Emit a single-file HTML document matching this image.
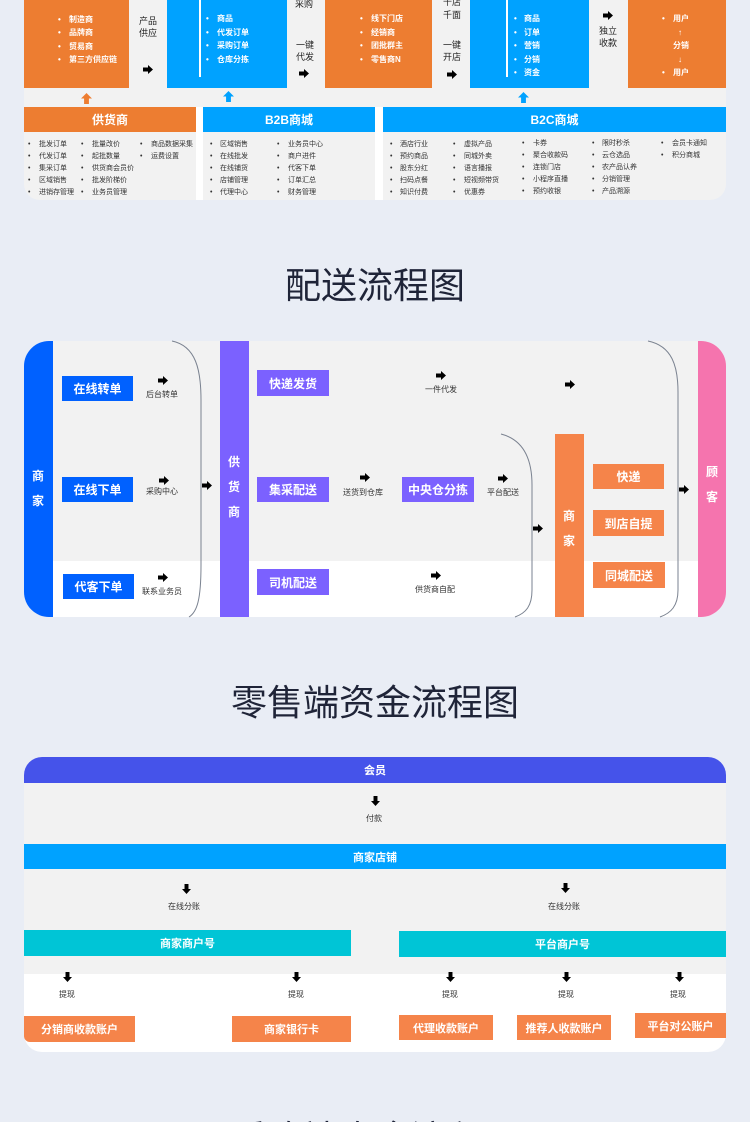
<!DOCTYPE html>
<html style="width:750px;height:1122px;overflow:hidden"><head><meta charset="utf-8"><style>
*{margin:0;padding:0;box-sizing:border-box}
html{width:750px;height:1122px;overflow:hidden}
body{width:750px;height:1122px;background:#e9edf5;position:relative;overflow:hidden;font-family:"Liberation Sans","Noto Sans CJK SC",sans-serif}
.a{position:absolute}
.t{position:absolute;white-space:nowrap;line-height:1}
.w{color:#fff;font-weight:bold}
.s{font-size:8px;color:#fff;font-weight:bold}
.k{font-size:9px;color:#222}
.l{font-size:7px;color:#333}
.ar{position:absolute;width:10px;height:9px;background:#000;clip-path:polygon(0 28%,50% 28%,50% 0,100% 50%,50% 100%,50% 72%,0 72%)}
.ad{position:absolute;width:9px;height:10px;background:#000;clip-path:polygon(28% 0,72% 0,72% 50%,100% 50%,50% 100%,0 50%,28% 50%)}
.au{position:absolute;width:11px;height:11px;clip-path:polygon(50% 0,100% 50%,72% 50%,72% 100%,28% 100%,28% 50%,0 50%)}
.bx{position:absolute;color:#fff;font-weight:bold;display:flex;align-items:center;justify-content:center;white-space:nowrap}
.title{position:absolute;left:0;width:750px;text-align:center;font-size:36px;color:#1f2438;line-height:40px}
</style></head><body>

<!-- Section 1 -->
<div class="a" style="left:24px;top:0;width:702px;height:200px;background:#f2f2f2;border-radius:0 0 16px 16px"></div>
<div class="a" style="left:24px;top:0;width:105px;height:88px;background:#ed7d31"></div>
<div class="a" style="left:167px;top:0;width:120px;height:88px;background:#00a2ff"></div>
<div class="a" style="left:199px;top:0;width:2px;height:77px;background:#fff"></div>
<div class="a" style="left:325px;top:0;width:107px;height:88px;background:#ed7d31"></div>
<div class="a" style="left:470px;top:0;width:119px;height:88px;background:#00a2ff"></div>
<div class="a" style="left:506px;top:0;width:2px;height:77px;background:#fff"></div>
<div class="a" style="left:628px;top:0;width:98px;height:88px;background:#ed7d31"></div>

<div class="t s" style="left:58px;top:16px">•</div><div class="t s" style="left:69px;top:16px">制造商</div>
<div class="t s" style="left:58px;top:29px">•</div><div class="t s" style="left:69px;top:29px">品牌商</div>
<div class="t s" style="left:58px;top:43px">•</div><div class="t s" style="left:69px;top:43px">贸易商</div>
<div class="t s" style="left:58px;top:56px">•</div><div class="t s" style="left:69px;top:56px">第三方供应链</div>

<div class="t s" style="left:206px;top:15px">•</div><div class="t s" style="left:217px;top:15px">商品</div>
<div class="t s" style="left:206px;top:29px">•</div><div class="t s" style="left:217px;top:29px">代发订单</div>
<div class="t s" style="left:206px;top:42px">•</div><div class="t s" style="left:217px;top:42px">采购订单</div>
<div class="t s" style="left:206px;top:56px">•</div><div class="t s" style="left:217px;top:56px">仓库分拣</div>

<div class="t s" style="left:360px;top:15px">•</div><div class="t s" style="left:371px;top:15px">线下门店</div>
<div class="t s" style="left:360px;top:29px">•</div><div class="t s" style="left:371px;top:29px">经销商</div>
<div class="t s" style="left:360px;top:42px">•</div><div class="t s" style="left:371px;top:42px">团批群主</div>
<div class="t s" style="left:360px;top:56px">•</div><div class="t s" style="left:371px;top:56px">零售商N</div>

<div class="t s" style="left:514px;top:15px">•</div><div class="t s" style="left:524px;top:15px">商品</div>
<div class="t s" style="left:514px;top:29px">•</div><div class="t s" style="left:524px;top:29px">订单</div>
<div class="t s" style="left:514px;top:42px">•</div><div class="t s" style="left:524px;top:42px">营销</div>
<div class="t s" style="left:514px;top:56px">•</div><div class="t s" style="left:524px;top:56px">分销</div>
<div class="t s" style="left:514px;top:69px">•</div><div class="t s" style="left:524px;top:69px">资金</div>

<div class="t s" style="left:662px;top:15px">•</div><div class="t s" style="left:673px;top:15px">用户</div>
<div class="t s" style="left:678px;top:29px">↑</div>
<div class="t s" style="left:673px;top:42px">分销</div>
<div class="t s" style="left:678px;top:56px">↓</div>
<div class="t s" style="left:662px;top:69px">•</div><div class="t s" style="left:673px;top:69px">用户</div>

<div class="t k" style="left:139px;top:17px">产品</div><div class="t k" style="left:139px;top:29px">供应</div>
<div class="ar" style="left:143px;top:65px"></div>
<div class="t k" style="left:295px;top:0px">采购</div>
<div class="t k" style="left:296px;top:41px">一键</div><div class="t k" style="left:296px;top:53px">代发</div>
<div class="ar" style="left:299px;top:69px"></div>
<div class="t k" style="left:443px;top:-2px">千店</div><div class="t k" style="left:443px;top:11px">千面</div>
<div class="t k" style="left:443px;top:41px">一键</div><div class="t k" style="left:443px;top:53px">开店</div>
<div class="ar" style="left:447px;top:70px"></div>
<div class="ar" style="left:603px;top:11px"></div>
<div class="t k" style="left:599px;top:27px">独立</div><div class="t k" style="left:599px;top:39px">收款</div>

<div class="au" style="left:81px;top:93px;background:#ed7d31"></div>
<div class="au" style="left:223px;top:91px;background:#00a2ff"></div>
<div class="au" style="left:518px;top:92px;background:#00a2ff"></div>

<div class="a" style="left:196px;top:107px;width:7px;height:93px;background:#fff"></div>
<div class="a" style="left:375px;top:107px;width:8px;height:93px;background:#fff"></div>
<div class="bx" style="left:24px;top:107px;width:172px;height:25px;background:#ed7d31;font-size:12px">供货商</div>
<div class="bx" style="left:203px;top:107px;width:172px;height:25px;background:#00a2ff;font-size:12px">B2B商城</div>
<div class="bx" style="left:383px;top:107px;width:343px;height:25px;background:#00a2ff;font-size:12px">B2C商城</div>

<!-- lists -->
<div class="t l" style="left:28px;top:139px;line-height:12px">•<br>•<br>•<br>•<br>•</div>
<div class="t l" style="left:39px;top:139px;line-height:12px">批发订单<br>代发订单<br>集采订单<br>区域销售<br>进销存管理</div>
<div class="t l" style="left:81px;top:139px;line-height:12px">•<br>•<br>•<br>•<br>•</div>
<div class="t l" style="left:92px;top:139px;line-height:12px">批量改价<br>起批数量<br>供货商会员价<br>批发阶梯价<br>业务员管理</div>
<div class="t l" style="left:140px;top:139px;line-height:12px">•<br>•</div>
<div class="t l" style="left:151px;top:139px;line-height:12px">商品数据采集<br>运费设置</div>

<div class="t l" style="left:210px;top:139px;line-height:12px">•<br>•<br>•<br>•<br>•</div>
<div class="t l" style="left:220px;top:139px;line-height:12px">区域销售<br>在线批发<br>在线铺货<br>店铺管理<br>代理中心</div>
<div class="t l" style="left:277px;top:139px;line-height:12px">•<br>•<br>•<br>•<br>•</div>
<div class="t l" style="left:288px;top:139px;line-height:12px">业务员中心<br>商户进件<br>代客下单<br>订单汇总<br>财务管理</div>

<div class="t l" style="left:390px;top:139px;line-height:12px">•<br>•<br>•<br>•<br>•</div>
<div class="t l" style="left:400px;top:139px;line-height:12px">酒店行业<br>预约商品<br>股东分红<br>扫码点餐<br>知识付费</div>
<div class="t l" style="left:453px;top:139px;line-height:12px">•<br>•<br>•<br>•<br>•</div>
<div class="t l" style="left:464px;top:139px;line-height:12px">虚拟产品<br>同城外卖<br>语言播报<br>短视频带货<br>优惠券</div>
<div class="t l" style="left:522px;top:138px;line-height:12px">•<br>•<br>•<br>•<br>•</div>
<div class="t l" style="left:533px;top:138px;line-height:12px">卡券<br>聚合收款码<br>连锁门店<br>小程序直播<br>预约收银</div>
<div class="t l" style="left:592px;top:138px;line-height:12px">•<br>•<br>•<br>•<br>•</div>
<div class="t l" style="left:602px;top:138px;line-height:12px">限时秒杀<br>云仓选品<br>农产品认养<br>分销管理<br>产品溯源</div>
<div class="t l" style="left:661px;top:138px;line-height:12px">•<br>•</div>
<div class="t l" style="left:672px;top:138px;line-height:12px">会员卡通知<br>积分商城</div>

<!-- Section 2 -->
<div class="title" style="top:266px">配送流程图</div>
<div class="a" style="left:24px;top:341px;width:702px;height:276px;background:#fff;border-radius:25px;overflow:hidden">
  <div class="a" style="left:0;top:0;width:702px;height:220px;background:#f2f2f2"></div>
</div>
<div class="a" style="left:24px;top:341px;width:29px;height:276px;background:#0061ff;border-radius:25px 0 0 25px"></div>
<div class="t w" style="left:32px;top:464px;font-size:12px;line-height:25px">商<br>家</div>
<div class="a" style="left:220px;top:341px;width:29px;height:276px;background:#7b61ff"></div>
<div class="t w" style="left:228px;top:450px;font-size:12px;line-height:25px">供<br>货<br>商</div>
<div class="a" style="left:555px;top:434px;width:29px;height:183px;background:#f5844a"></div>
<div class="t w" style="left:563px;top:504px;font-size:12px;line-height:25px">商<br>家</div>
<div class="a" style="left:698px;top:341px;width:28px;height:276px;background:#f574ae;border-radius:0 25px 25px 0"></div>
<div class="t w" style="left:706px;top:460px;font-size:12px;line-height:25px">顾<br>客</div>

<svg class="a" style="left:0;top:0" width="750" height="1122">
<g fill="none" stroke="#7a8290" stroke-width="1">
<path d="M172,341 C196,346 201,370 201,400 L201,565 C201,600 197,612 189,617"/>
<path d="M501,434 C524,440 532,460 532,485 L532,590 C532,606 526,613 515,617"/>
<path d="M648,341 C672,346 678,366 678,392 L678,590 C678,606 671,613 660,617"/>
</g></svg>

<div class="bx" style="left:62px;top:376px;width:71px;height:25px;background:#0061ff;font-size:12px">在线转单</div>
<div class="bx" style="left:62px;top:477px;width:71px;height:25px;background:#0061ff;font-size:12px">在线下单</div>
<div class="bx" style="left:63px;top:574px;width:71px;height:25px;background:#0061ff;font-size:12px">代客下单</div>
<div class="bx" style="left:257px;top:370px;width:72px;height:26px;background:#7b61ff;font-size:12px">快递发货</div>
<div class="bx" style="left:257px;top:477px;width:72px;height:25px;background:#7b61ff;font-size:12px">集采配送</div>
<div class="bx" style="left:257px;top:569px;width:72px;height:26px;background:#7b61ff;font-size:12px">司机配送</div>
<div class="bx" style="left:402px;top:477px;width:72px;height:25px;background:#7b61ff;font-size:12px">中央仓分拣</div>
<div class="bx" style="left:593px;top:464px;width:71px;height:25px;background:#f5844a;font-size:12px">快递</div>
<div class="bx" style="left:593px;top:510px;width:71px;height:26px;background:#f5844a;font-size:12px">到店自提</div>
<div class="bx" style="left:593px;top:562px;width:72px;height:26px;background:#f5844a;font-size:12px">同城配送</div>

<div class="ar" style="left:158px;top:376px"></div><div class="t l" style="left:146px;top:391px;font-size:8px">后台转单</div>
<div class="ar" style="left:159px;top:476px"></div><div class="t l" style="left:146px;top:488px;font-size:8px">采购中心</div>
<div class="ar" style="left:158px;top:573px"></div><div class="t l" style="left:142px;top:588px;font-size:8px">联系业务员</div>
<div class="ar" style="left:202px;top:481px"></div>
<div class="ar" style="left:436px;top:371px"></div><div class="t l" style="left:425px;top:386px;font-size:8px">一件代发</div>
<div class="ar" style="left:565px;top:380px"></div>
<div class="ar" style="left:360px;top:473px"></div><div class="t l" style="left:343px;top:489px;font-size:8px">送货到仓库</div>
<div class="ar" style="left:498px;top:474px"></div><div class="t l" style="left:487px;top:489px;font-size:8px">平台配送</div>
<div class="ar" style="left:533px;top:524px"></div>
<div class="ar" style="left:431px;top:571px"></div><div class="t l" style="left:415px;top:586px;font-size:8px">供货商自配</div>
<div class="ar" style="left:679px;top:485px"></div>

<!-- Section 3 -->
<div class="title" style="top:683px">零售端资金流程图</div>
<div class="a" style="left:24px;top:757px;width:702px;height:295px;background:#fff;border-radius:18px;overflow:hidden">
  <div class="a" style="left:0;top:0;width:702px;height:217px;background:#f2f2f2"></div>
</div>
<div class="bx" style="left:24px;top:757px;width:702px;height:26px;background:#4553ea;font-size:11px;border-radius:18px 18px 0 0">会员</div>
<div class="ad" style="left:371px;top:796px"></div><div class="t l" style="left:366px;top:815px;font-size:8px">付款</div>
<div class="bx" style="left:24px;top:844px;width:702px;height:25px;background:#00a2ff;font-size:11px">商家店铺</div>
<div class="ad" style="left:182px;top:884px"></div><div class="t l" style="left:168px;top:903px;font-size:8px">在线分账</div>
<div class="ad" style="left:561px;top:883px"></div><div class="t l" style="left:548px;top:903px;font-size:8px">在线分账</div>
<div class="bx" style="left:24px;top:930px;width:327px;height:26px;background:#00c5d6;font-size:11px">商家商户号</div>
<div class="bx" style="left:399px;top:931px;width:327px;height:26px;background:#00c5d6;font-size:11px">平台商户号</div>

<div class="ad" style="left:63px;top:972px"></div><div class="t l" style="left:59px;top:991px;font-size:8px">提现</div>
<div class="ad" style="left:292px;top:972px"></div><div class="t l" style="left:288px;top:991px;font-size:8px">提现</div>
<div class="ad" style="left:446px;top:972px"></div><div class="t l" style="left:442px;top:991px;font-size:8px">提现</div>
<div class="ad" style="left:562px;top:972px"></div><div class="t l" style="left:558px;top:991px;font-size:8px">提现</div>
<div class="ad" style="left:675px;top:972px"></div><div class="t l" style="left:670px;top:991px;font-size:8px">提现</div>

<div class="bx" style="left:24px;top:1016px;width:111px;height:26px;background:#f5844a;font-size:11px;border-radius:0 0 0 6px">分销商收款账户</div>
<div class="bx" style="left:232px;top:1016px;width:119px;height:26px;background:#f5844a;font-size:11px">商家银行卡</div>
<div class="bx" style="left:399px;top:1015px;width:94px;height:25px;background:#f5844a;font-size:11px">代理收款账户</div>
<div class="bx" style="left:517px;top:1015px;width:94px;height:25px;background:#f5844a;font-size:11px">推荐人收款账户</div>
<div class="bx" style="left:635px;top:1013px;width:91px;height:25px;background:#f5844a;font-size:11px">平台对公账户</div>

<div class="title" style="top:1119px">采购端资金流程图</div>
</body></html>
